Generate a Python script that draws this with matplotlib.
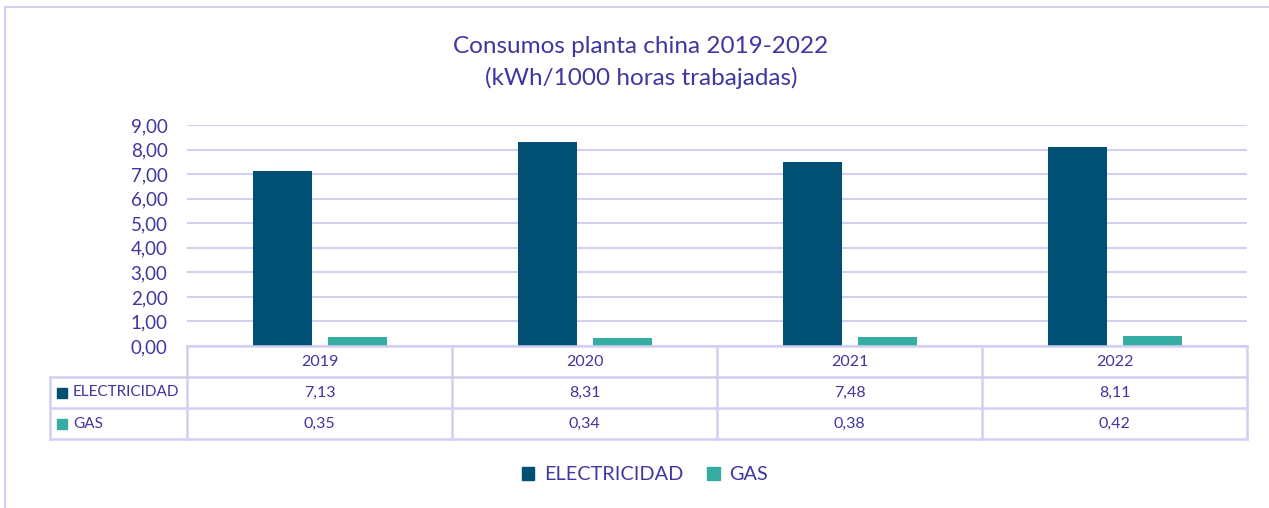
import numpy as np
import matplotlib
matplotlib.use("Agg")
import matplotlib.pyplot as plt
from matplotlib.patches import Rectangle
import matplotlib.transforms as mtransforms

plt.rcParams['font.family'] = ['Lato', 'DejaVu Sans']

years = ['2019', '2020', '2021', '2022']
series = ['ELECTRICIDAD', 'GAS']
electricidad = [7.13, 8.31, 7.48, 8.11]
gas = [0.35, 0.34, 0.38, 0.42]
yticks = [0, 1, 2, 3, 4, 5, 6, 7, 8, 9]

C_ELEC = '#005073'
C_GAS = '#36ADA3'
C_TEXT = '#4036A0'
C_GRID = '#D3CFF0'

W, H = 1269, 508
fig = plt.figure(figsize=(W / 100, H / 100), dpi=100)


def fx(px):
    return px / W


def fy(py):
    return 1 - py / H


# outer chart border
fig.patches.append(Rectangle((fx(5), fy(520)), fx(1300), fy(7) - fy(520),
                             transform=fig.transFigure, fill=False,
                             edgecolor=C_GRID, lw=1.5))

ax = fig.add_axes([fx(187), fy(346), fx(1247) - fx(187), fy(125) - fy(346)])
x = np.arange(len(years))
bw = 0.223
ax.bar(x - 0.141, electricidad, bw, color=C_ELEC, zorder=3)
ax.bar(x + 0.142, gas, bw, color=C_GAS, zorder=3)
ax.set_xlim(-0.5, len(years) - 0.5)
ax.set_ylim(0, 9)
ax.set_yticks(yticks)
ax.set_yticklabels([f'{v:.2f}'.replace('.', ',') for v in yticks],
                   color=C_TEXT, fontsize=13.5)
ax.tick_params(axis='y', length=0, pad=14)
ax.set_xticks([])
ax.grid(axis='y', color=C_GRID, lw=1.5, zorder=0)
for s in ax.spines.values():
    s.set_visible(False)

fig.text(fx(641), fy(46), 'Consumos planta china 2019-2022', ha='center',
         va='center', color=C_TEXT, fontsize=17.5)
fig.text(fx(641), fy(78), '(kWh/1000 horas trabajadas)', ha='center',
         va='center', color=C_TEXT, fontsize=17.5)

# data table below the axis
tr = mtransforms.blended_transform_factory(ax.transData, ax.transAxes)
row_h = 31 / 221
left = -0.5 - 137 / 265
right = len(years) - 0.5
lk = dict(color=C_GRID, lw=1.8, transform=tr, clip_on=False, zorder=4)
# horizontal lines
ax.plot([-0.5, right], [0, 0], **lk)
for r in range(1, 4):
    ax.plot([left, right], [-r * row_h, -r * row_h], **lk)
# vertical lines
for b in np.arange(-0.5, right + 0.01, 1.0):
    ax.plot([b, b], [0, -3 * row_h], **lk)
ax.plot([left, left], [-row_h, -3 * row_h], **lk)

tk = dict(ha='center', va='center', color=C_TEXT, fontsize=11.5, transform=tr)
for i, yr in enumerate(years):
    ax.text(i, -0.5 * row_h, yr, **tk)
    ax.text(i, -1.5 * row_h, f'{electricidad[i]:.2f}'.replace('.', ','), **tk)
    ax.text(i, -2.5 * row_h, f'{gas[i]:.2f}'.replace('.', ','), **tk)

for r, (name, col) in enumerate(zip(series, [C_ELEC, C_GAS])):
    yc = -(1.5 + r) * row_h
    ax.plot([left + 12 / 265], [yc], marker='s', ms=7.5, color=col,
            transform=tr, clip_on=False, lw=0)
    ax.text(left + 23 / 265, yc, name, ha='left', va='center', color=C_TEXT,
            fontsize=11, transform=tr)

# legend
handles = [Rectangle((0, 0), 1, 1, color=C_ELEC), Rectangle((0, 0), 1, 1, color=C_GAS)]
fig.legend(handles, series, loc='center', bbox_to_anchor=(fx(645), fy(475)),
           ncol=2, frameon=False, fontsize=14.3, labelcolor=C_TEXT,
           handlelength=0.62, handleheight=0.62, handletextpad=0.5,
           columnspacing=1.2)

fig.savefig('out.png', dpi=100)
